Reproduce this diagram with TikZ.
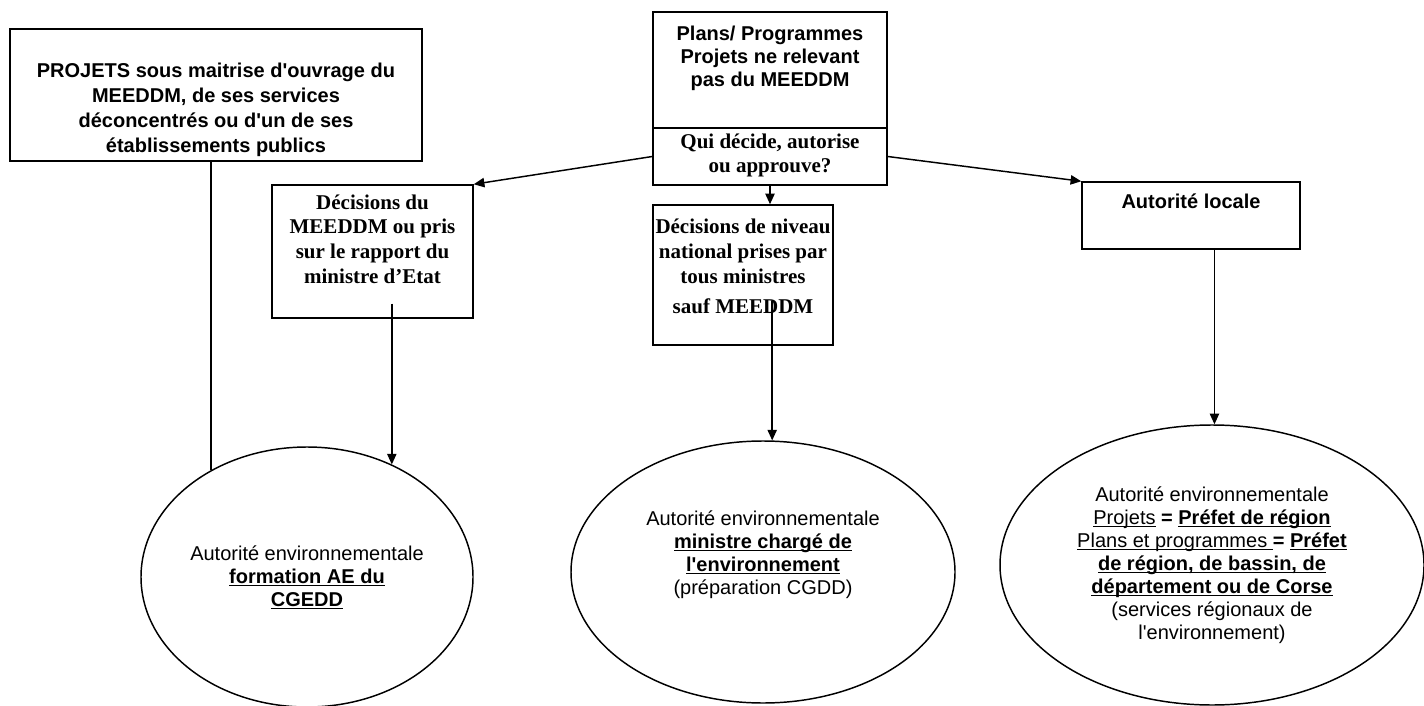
\documentclass[tikz,border=0pt]{standalone}
\usepackage{fontspec}
\setmainfont{Liberation Serif}
\newfontfamily\arial{Liberation Sans}
\newcommand\myul[1]{\underline{\smash{#1}}}
\usetikzlibrary{arrows.meta,shapes.geometric}
\begin{document}
\begin{tikzpicture}[x=0.75pt,y=-0.75pt,
  ln/.style={line width=1.1pt},
  arr/.style={ln,-{Triangle[length=8pt,width=7pt]}},
  box/.style={draw,rectangle,line width=1.1pt,inner sep=0pt,align=center},
  ell/.style={draw,ellipse,line width=1.1pt,inner sep=0pt,align=center,font=\arial\fontsize{15}{17.25}\selectfont},
  sfb/.style={font=\arial\bfseries\fontsize{15}{18.75}\selectfont},
  rmb/.style={font=\bfseries\fontsize{15.75}{18.5}\selectfont}]
\useasboundingbox (0,0) rectangle (1424,706);

\node[box,sfb,minimum width=309pt,text height=93pt,text depth=6pt] (proj) at (216,95)
  {PROJETS sous maitrise d'ouvrage du\\MEEDDM, de ses services\\déconcentrés ou d'un de ses\\établissements publics};

\node[box,sfb,minimum width=175.5pt,text height=56.25pt,text depth=30.75pt,font=\arial\bfseries\fontsize{15}{17.6}\selectfont] (plans) at (770,70)
  {Plans/ Programmes\\Projets ne relevant\\pas du MEEDDM};
\node[box,rmb,minimum width=175.5pt,text height=33.75pt,text depth=9pt,font=\bfseries\fontsize{15.75}{18}\selectfont] (qui) at (770,156.5)
  {Qui décide, autorise\\ou approuve?};

\node[box,rmb,minimum width=150.75pt,text height=73.5pt,text depth=26.25pt] (dm) at (372.5,251.5)
  {Décisions du\\MEEDDM ou pris\\sur le rapport du\\ministre d'Etat};

\node[box,rmb,minimum width=135pt,text height=81pt,text depth=24pt] (dn) at (743,275)
  {Décisions de niveau\\national prises par\\tous ministres\\[4pt]sauf MEEDDM};

\node[box,sfb,minimum width=163.5pt,text height=20.25pt,text depth=30pt] (al) at (1191,215.5)
  {Autorité locale};

\node[ell,minimum width=249pt,minimum height=195pt] (e1) at (307,577)
  {Autorité environnementale\\\textbf{\myul{formation AE du}}\\\textbf{\myul{CGEDD}}};
\node[ell,minimum width=288pt,minimum height=196.5pt] (e2) at (763,572)
  {Autorité environnementale\\\textbf{\myul{ministre chargé de}}\\\textbf{\myul{l'environnement}}\\(préparation CGDD)\\[12pt]};
\node[ell,minimum width=318pt,minimum height=210pt] (e3) at (1212,565)
  {Autorité environnementale\\
   \myul{Projets} \textbf{= \myul{Préfet de région}}\\
   \myul{Plans et programmes }\textbf{= \myul{Préfet}}\\
   \textbf{\myul{de région, de bassin, de}}\\
   \textbf{\myul{département ou de Corse}}\\
   (services régionaux de\\
   l'environnement)};

\draw[arr] (qui.west) -- (dm.north east);
\draw[arr] (qui.east) -- (al.north west);
\draw[arr] (qui.south) -- (qui.south |- dn.north);
\draw[ln] (e1.132.6 |- proj.south) -- (e1.132.6);
\draw[arr] ([yshift=11.25pt]e1.53.6 |- dm.south) -- (e1.53.6);
\draw[arr] ([yshift=33.75pt]e2.86.9 |- dn.south) -- (e2.86.9);
\draw[arr] (e3.89.4 |- al.south) -- (e3.89.4);
\end{tikzpicture}
\end{document}
